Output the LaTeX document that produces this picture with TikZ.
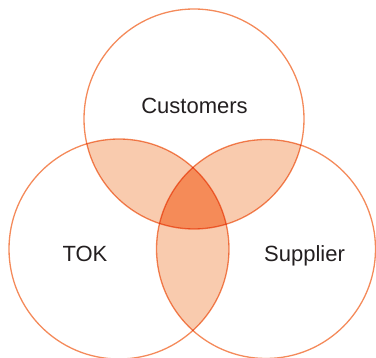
\documentclass[tikz,border=0pt]{standalone}
\usepackage{fontspec}
\setmainfont{Liberation Sans}
\definecolor{ring}{HTML}{F48A5A}
\definecolor{lightfill}{HTML}{F9CBAE}
\definecolor{darkfill}{HTML}{F58B58}
\definecolor{txt}{HTML}{231F20}
\tikzset{
  ringline/.style={draw=ring, line width=1.3pt, blend mode=multiply},
  lbl/.style={text=txt, font=\fontsize{22}{24}\selectfont, inner sep=0pt, anchor=base}
}
\begin{document}
\begin{tikzpicture}[x=1pt,y=-1pt]
\useasboundingbox (0,0) rectangle (376,358);
\clip (0,0) rectangle (376,358);
\def\ctop{(194,119) circle (110)}
\def\cleft{(119,249) circle (110)}
\def\cright{(266,249) circle (109.5)}
% pairwise overlaps
\begin{scope}\clip \ctop; \fill[lightfill] \cleft; \end{scope}
\begin{scope}\clip \ctop; \fill[lightfill] \cright; \end{scope}
\begin{scope}\clip \cleft; \fill[lightfill] \cright; \end{scope}
% triple overlap
\begin{scope}\clip \ctop; \clip \cleft; \fill[darkfill] \cright; \end{scope}
% circles
\node[circle, minimum size=220pt, inner sep=0pt, ringline] (top) at (194,119) {};
\node[circle, minimum size=220pt, inner sep=0pt, ringline] (left) at (119,249) {};
\node[circle, minimum size=219pt, inner sep=0pt, ringline] (right) at (266,249) {};
% labels
\node[lbl] (customers) at (194.5,114) {Customers};
\node[lbl] (tok) at (85,262) {TOK};
\node[lbl] (supplier) at (304.5,262) {Supplier};
\end{tikzpicture}
\end{document}
